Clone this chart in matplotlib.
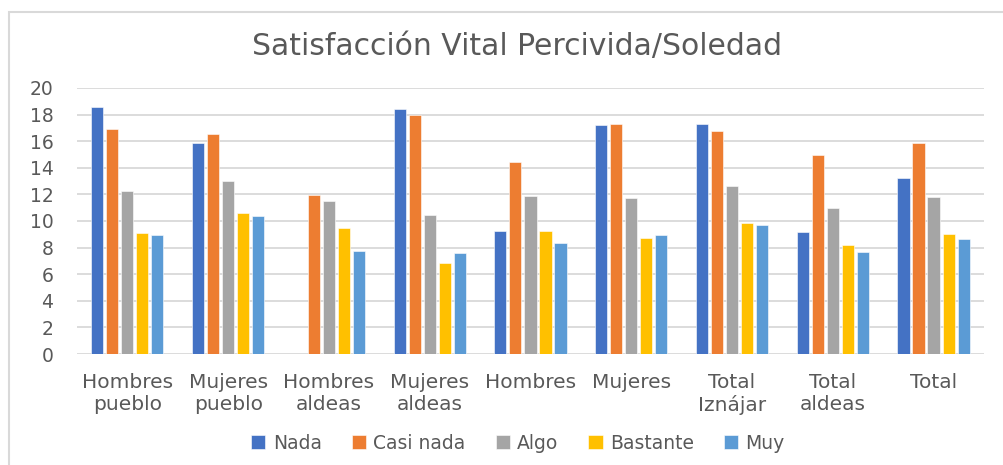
import matplotlib.pyplot as plt
import numpy as np
from matplotlib.patches import Rectangle

# data
categories = ['Hombres\npueblo', 'Mujeres\npueblo', 'Hombres\naldeas', 'Mujeres\naldeas',
              'Hombres', 'Mujeres', 'Total\nIznájar', 'Total\naldeas', 'Total']
series = ['Nada', 'Casi nada', 'Algo', 'Bastante', 'Muy']
nada      = [18.6, 15.9, 0.0, 18.45, 9.25, 17.2, 17.3, 9.2, 13.2]
casi_nada = [16.95, 16.55, 11.95, 17.95, 14.45, 17.3, 16.75, 14.95, 15.85]
algo      = [12.25, 13.0, 11.5, 10.45, 11.9, 11.75, 12.65, 11.0, 11.8]
bastante  = [9.1, 10.6, 9.5, 6.85, 9.25, 8.75, 9.85, 8.2, 9.05]
muy       = [8.95, 10.35, 7.75, 7.6, 8.35, 8.95, 9.7, 7.65, 8.65]
yticks = [0, 2, 4, 6, 8, 10, 12, 14, 16, 18, 20]

colors = ['#4472C4', '#ED7D31', '#A5A5A5', '#FFC000', '#5B9BD5']
txt = '#595959'
plt.rcParams['font.family'] = ['DejaVu Sans']

fig = plt.figure(figsize=(10.04, 4.65), dpi=100)
ax = fig.add_axes([0.0767, 0.2387, 0.9033, 0.5721])

x = np.arange(len(categories))
step = 0.149
width = 0.12
for k, (name, vals) in enumerate(zip(series, [nada, casi_nada, algo, bastante, muy])):
    ax.bar(x + (k - 2) * step, vals, width, color=colors[k], label=name,
           edgecolor='white', linewidth=0.4, zorder=3)

ax.set_xlim(-0.5, len(categories) - 0.5)
ax.set_ylim(0, 20)
ax.set_yticks(yticks)
ax.grid(axis='y', color='#D9D9D9', linewidth=1.3, zorder=0)
for s in ax.spines.values():
    s.set_visible(False)
ax.tick_params(axis='both', length=0, colors=txt, labelsize=13.5)
ax.tick_params(axis='y', pad=17)
ax.set_xticks(x)
ax.set_xticklabels(categories, fontsize=14.5, color=txt, linespacing=1.15)
ax.tick_params(axis='x', pad=14)

fig.text(0.515, 0.9, 'Satisfacción Vital Percivida/Soledad', ha='center', va='center',
         fontsize=21.5, color=txt)

leg = fig.legend(loc='center', bbox_to_anchor=(0.516, 0.047), ncol=5, frameon=False,
                 fontsize=13.5, handlelength=0.75, handleheight=0.75, handletextpad=0.4,
                 columnspacing=1.6, labelcolor=txt)

# chart border (top and left visible)
fig.patches.append(Rectangle((9 / 1004, -0.1), 1.2, 1 - 12 / 465 + 0.1,
                             transform=fig.transFigure, fill=False,
                             edgecolor='#D9D9D9', linewidth=1.5))

plt.savefig('out.png', dpi=100)
